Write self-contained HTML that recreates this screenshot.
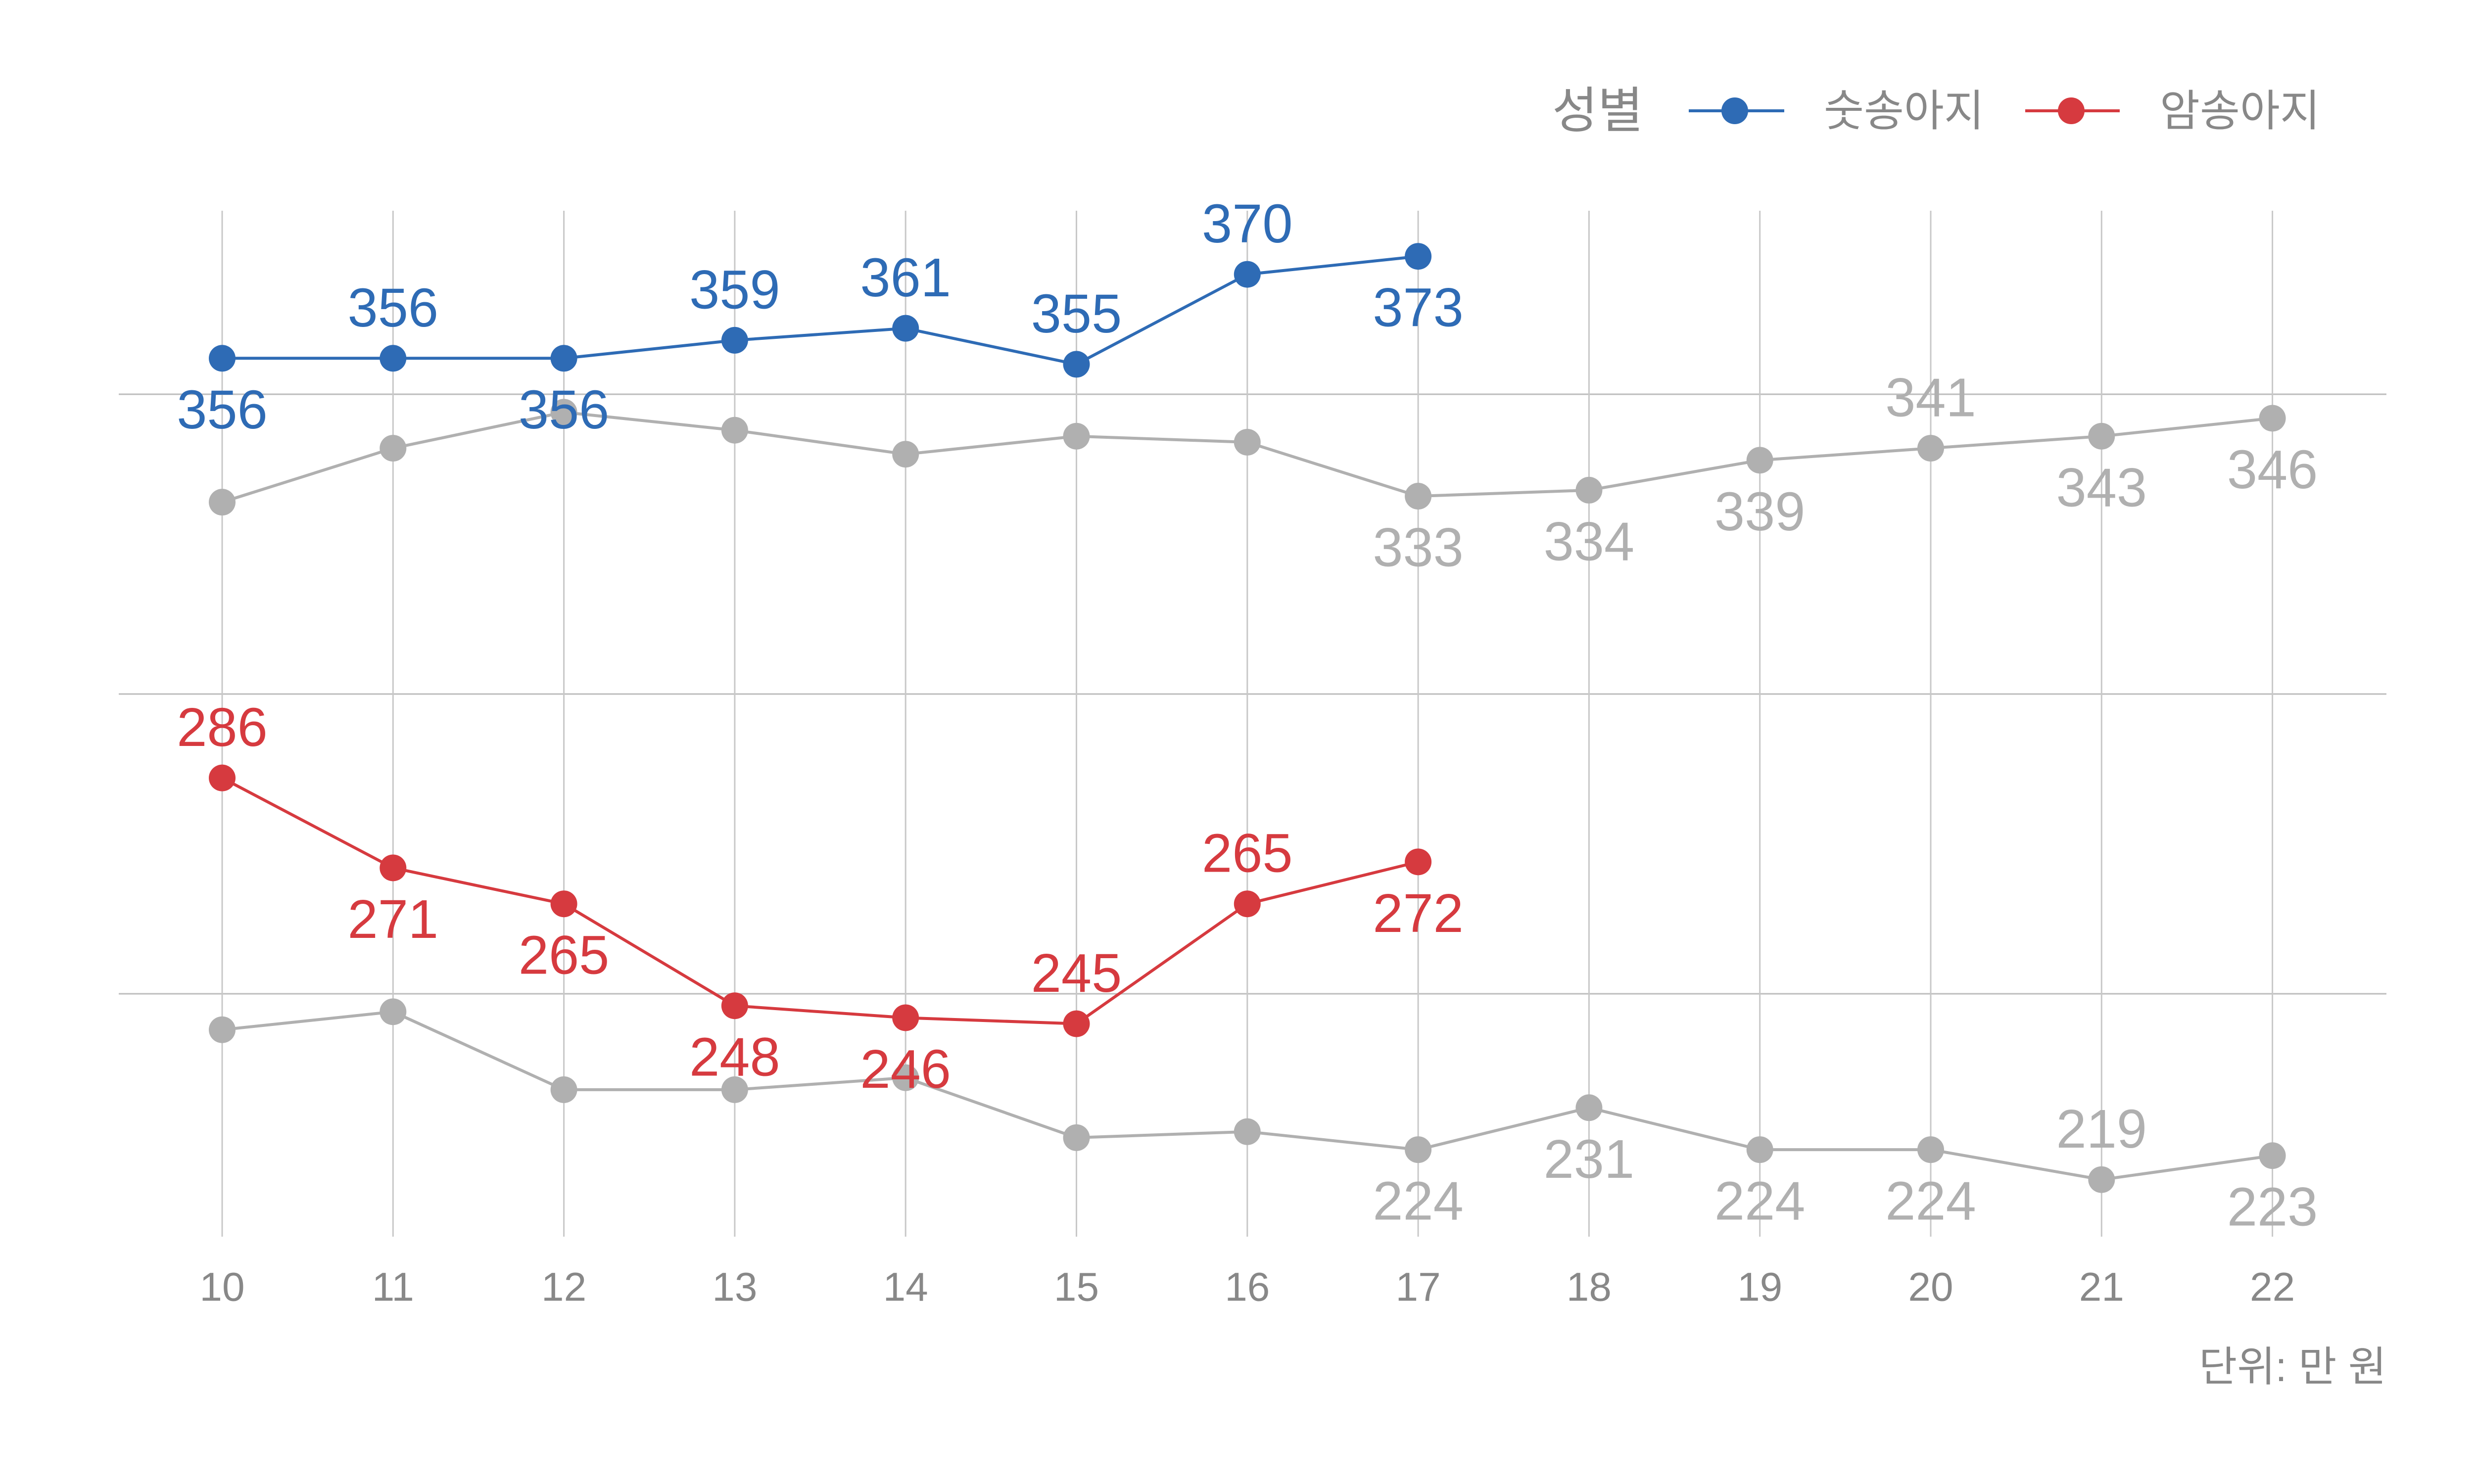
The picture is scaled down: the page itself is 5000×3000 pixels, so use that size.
<!DOCTYPE html>
<html><head><meta charset="utf-8"><style>
html,body{margin:0;padding:0;background:#fff;}
svg{display:block;font-family:"Liberation Sans","Noto Sans CJK KR",sans-serif;}
</style></head><body>
<svg id="chart" width="5000" height="3000" viewBox="0 0 5000 3000" xmlns="http://www.w3.org/2000/svg">
<g id="grid"></g>
<g id="series"></g>
<g id="xticks"></g>
<g>
<text x="3229" y="224" font-size="100" fill="#888" text-anchor="middle" dominant-baseline="central">성별</text>
<g>
<line x1="3413" y1="224" x2="3606" y2="224" stroke="#2e6bb5" stroke-width="6"/>
<circle cx="3506" cy="224" r="27" fill="#2e6bb5"/>
<text x="3686" y="224" font-size="88" fill="#888" dominant-baseline="central">숫송아지</text>
</g>
<g>
<line x1="4093" y1="224" x2="4284" y2="224" stroke="#d63a3f" stroke-width="6"/>
<circle cx="4186" cy="224" r="27" fill="#d63a3f"/>
<text x="4365" y="224" font-size="88" fill="#888" dominant-baseline="central">암송아지</text>
</g>
</g>
<text x="4823" y="2763" font-size="84" fill="#888" text-anchor="end" dominant-baseline="central">단위: 만 원</text>
</svg>
<script>
const years = [10,11,12,13,14,15,16,17,18,19,20,21,22];
const yTicks = [350,300,250];
const maleVals = [356,356,356,359,361,355,370,373];
const femaleVals = [286,271,265,248,246,245,265,272];
const grayMaleVals = [332,341,347,344,340,343,342,333,334,339,341,343,346];
const grayFemaleVals = [244,247,234,234,236,226,227,224,231,224,224,219,223];
const maleLabelPos = ['b','a','b','a','a','a','a','b'];
const femaleLabelPos = ['a','b','b','b','b','a','a','b'];
const grayMaleLabelPos = [null,null,null,null,null,null,null,'b','b','b','a','b','b'];
const grayFemaleLabelPos = [null,null,null,null,null,null,null,'b','b','b','b','a','b'];

const NS='http://www.w3.org/2000/svg';
function xS(i){return 449+i*345.3;}
function yS(v){return 797+(350-v)*12.12;}
function mk(tag,attrs,parent){const e=document.createElementNS(NS,tag);for(const k in attrs)e.setAttribute(k,attrs[k]);parent.appendChild(e);return e;}
const grid=document.getElementById('grid');
yTicks.forEach(t=>{
  const l=mk('line',{x1:240,x2:4823,y1:yS(t),y2:yS(t),stroke:'#bdbdbd','stroke-width':3},grid);
  
  
});
const xt=document.getElementById('xticks');
years.forEach((y,i)=>{
  const l=mk('line',{x1:xS(i),x2:xS(i),y1:426,y2:2500,stroke:'#c8c8c8','stroke-width':3},grid);
  
  
  const t=mk('text',{x:xS(i),y:2602,'font-size':82,fill:'#888','text-anchor':'middle','dominant-baseline':'central'},xt);
  t.textContent=y;
  
  
});
const sg=document.getElementById('series');
function drawSeries(vals,pos,color,name){
  const g=mk('g',{},sg);
  
  
  const pts=vals.map((v,i)=>xS(i)+','+yS(v)).join(' ');
  const pl=mk('polyline',{points:pts,fill:'none',stroke:color,'stroke-width':6,'stroke-linejoin':'round'},g);
  
  
  vals.forEach((v,i)=>{
    const c=mk('circle',{cx:xS(i),cy:yS(v),r:27,fill:color},g);
    
    
  });
  vals.forEach((v,i)=>{
    if(!pos[i])return;
    const dy=pos[i]==='a'?-102:104;
    const t=mk('text',{x:xS(i),y:yS(v)+dy,'font-size':110,fill:color,'text-anchor':'middle','dominant-baseline':'central'},g);
    t.textContent=v;
    
    
  });
}
drawSeries(grayMaleVals,grayMaleLabelPos,'#b0b0b0','gray-male-series');
drawSeries(grayFemaleVals,grayFemaleLabelPos,'#b0b0b0','gray-female-series');
drawSeries(maleVals,maleLabelPos,'#2e6bb5','male-series');
drawSeries(femaleVals,femaleLabelPos,'#d63a3f','female-series');
</script>
</body></html>
